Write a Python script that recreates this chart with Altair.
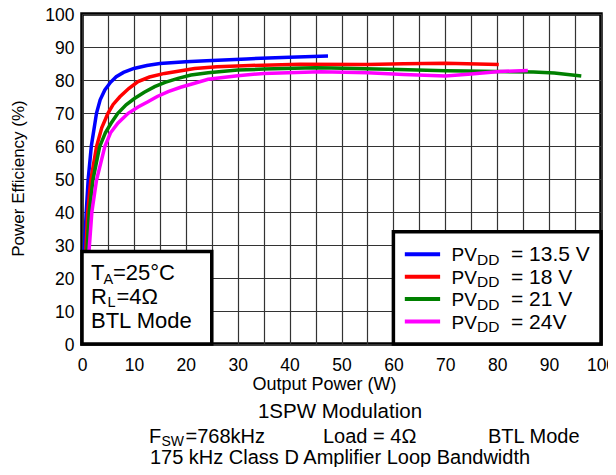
import altair as alt
import pandas as pd

FONT = "Liberation Sans"

SERIES = ["PVDD = 13.5 V", "PVDD = 18 V", "PVDD = 21 V", "PVDD = 24V"]
COLORS = ["#0000FF", "#FF0000", "#008000", "#FF00FF"]
LEGEND_TAIL = ["= 13.5 V", "= 18 V", "= 21 V", "= 24V"]

# Output power (W) and efficiency (%)
blue_x = [0.4, 0.8, 1.2, 1.8, 2.8, 3.5, 4.4, 5.5, 6.6, 8.0, 10.0, 12.5, 15.0, 20.0, 24.0, 31.7, 40.0, 47.4]
blue_y = [27.0, 39.6, 50.0, 60.0, 70.0, 74.0, 77.0, 79.3, 81.0, 82.3, 83.5, 84.4, 85.0, 85.5, 85.8, 86.4, 86.9, 87.3]

red_x = [0.7, 1.1, 1.7, 2.8, 3.8, 5.0, 6.0, 7.3, 9.0, 10.8, 13.0, 15.9, 21.7, 26.0, 32.4, 42.0, 55.0, 62.0, 70.0, 80.3]
red_y = [27.0, 40.0, 49.7, 59.8, 65.5, 69.9, 72.6, 74.9, 77.4, 79.5, 80.9, 82.0, 83.5, 84.0, 84.4, 84.8, 84.7, 84.9, 85.1, 84.7]

green_x = [0.9, 1.4, 2.1, 3.4, 4.5, 5.6, 6.9, 8.5, 10.1, 12.0, 14.0, 16.0, 18.5, 21.0, 24.3, 30.0, 35.0, 45.0, 48.0, 61.0, 70.0, 74.0, 87.0, 91.0, 96.2]
green_y = [27.0, 40.0, 49.7, 59.8, 64.0, 66.9, 69.9, 72.5, 74.4, 76.3, 78.0, 79.3, 80.5, 81.5, 82.2, 83.0, 83.3, 83.7, 83.6, 83.2, 82.8, 82.7, 82.4, 82.1, 81.2]

magenta_x = [1.3, 1.9, 2.8, 4.4, 5.5, 6.9, 8.9, 10.8, 12.7, 14.5, 16.6, 19.0, 21.7, 24.3, 30.0, 35.0, 46.0, 55.0, 62.0, 70.0, 75.0, 80.5, 85.9]
magenta_y = [27.0, 40.0, 49.7, 59.8, 64.0, 66.9, 69.9, 71.8, 73.4, 75.0, 76.5, 77.8, 79.0, 80.2, 81.3, 82.0, 82.5, 82.2, 81.7, 81.2, 81.8, 82.6, 82.9]

rows = []
for name, xs, ys in zip(SERIES, [blue_x, red_x, green_x, magenta_x], [blue_y, red_y, green_y, magenta_y]):
    for i, (xv, yv) in enumerate(zip(xs, ys)):
        rows.append({"series": name, "power": xv, "eff": yv, "order": i})
df = pd.DataFrame(rows)

# annotation boxes (data coordinates)
box_x = [0, 60]
box_x2 = [25, 100]
box_y = [0, 0]
box_y2 = [28, 34]
boxes = pd.DataFrame({"power": box_x, "x2": box_x2, "eff": box_y, "y2": box_y2})

# legend rows (data coordinates)
leg_y = [27.2, 20.4, 13.6, 6.8]
leg_x1 = 62.2
leg_x2 = 69.0
legdf = pd.DataFrame({"series": SERIES, "eff": leg_y, "tail": LEGEND_TAIL,
                      "power": [leg_x1] * 4, "x2": [leg_x2] * 4})

xscale = alt.Scale(domain=[0, 100], nice=False, zero=False)
yscale = alt.Scale(domain=[0, 100], nice=False, zero=False)
cscale = alt.Scale(domain=SERIES, range=COLORS)

x_axis = alt.Axis(
    values=list(range(0, 101, 5)),
    labelExpr="datum.value % 10 == 0 ? datum.label : ''",
    grid=True, ticks=False, domain=False,
    labelOverlap=False, labelFlush=False, labelPadding=12,
    title="Output Power (W)", titleFontSize=18,
    titleX=242, titleY=45.5, titleBaseline="alphabetic", titleAlign="center",
)
y_axis = alt.Axis(
    values=list(range(0, 101, 10)),
    grid=True, ticks=False, domain=False,
    labelOverlap=False, labelFlush=False, labelPadding=8, labelOffset=1.5,
    title="Power Efficiency (%)",
    titleX=-64, titleY=164, titleAngle=270, titleBaseline="middle", titleAlign="center",
)

X = alt.X("power:Q", scale=xscale, axis=x_axis)
Y = alt.Y("eff:Q", scale=yscale, axis=y_axis)

lines = alt.Chart(df).mark_line(strokeWidth=3.5, clip=True).encode(
    x=X, y=Y,
    color=alt.Color("series:N", scale=cscale, legend=None),
    order="order:Q",
    detail="series:N",
)

box_layer = alt.Chart(boxes).mark_rect(fill="white", stroke="black", strokeWidth=3.5).encode(
    x=X, x2="x2:Q", y=Y, y2="y2:Q",
)

leg_lines = alt.Chart(legdf).mark_rule(strokeWidth=4).encode(
    x=X, x2="x2:Q", y=Y,
    color=alt.Color("series:N", scale=cscale, legend=None),
)
leg_pv = alt.Chart(legdf).mark_text(text="PV", fontSize=19, align="left",
                                    baseline="alphabetic", dy=7, color="black").encode(
    x=alt.value(369.5), y=Y)
leg_dd = alt.Chart(legdf).mark_text(text="DD", fontSize=15.5, align="left",
                                    baseline="alphabetic", dy=10.5, color="black").encode(
    x=alt.value(395), y=Y)
leg_tail = alt.Chart(legdf).mark_text(fontSize=21, align="left",
                                      baseline="alphabetic", dy=7, color="black").encode(
    x=alt.value(429), y=Y, text="tail:N")

one = pd.DataFrame({"k": [0]})


def txt(s, x, y, size, align="left"):
    return alt.Chart(one).mark_text(text=s, fontSize=size, align=align,
                                    baseline="alphabetic", color="black").encode(
        x=alt.value(x), y=alt.value(y))


notes = [
    txt("T", 9, 266, 22), txt("A", 21.5, 269.5, 14.5), txt("=25\u00b0C", 31, 266, 22),
    txt("R", 9, 290, 22), txt("L", 25.5, 293, 14.5), txt("=4\u03a9", 34.5, 290, 22),
    txt("BTL Mode", 9, 314, 22),
    txt("1SPW Modulation", 258, 404, 20.5, "center"),
    txt("F", 67, 429, 20), txt("SW", 79.5, 431.5, 14), txt("=768kHz", 103.5, 429, 20),
    txt("Load = 4\u03a9", 241, 429, 20), txt("BTL Mode", 406, 429, 20),
    txt("175 kHz Class D Amplifier Loop Bandwidth", 258, 450, 20, "center"),
]

chart = alt.layer(lines, box_layer, leg_lines, leg_pv, leg_dd, leg_tail, *notes).properties(
    width=519, height=330,
    autosize=alt.AutoSizeParams(type="none"),
    padding={"left": 74, "top": 6, "right": 7, "bottom": 123},
    background="white",
).configure_view(
    stroke="black", strokeWidth=3.5
).configure_axis(
    grid=True, gridColor="#333333", gridWidth=1.2, gridOpacity=1,
    labelFont=FONT, labelFontSize=17.5, labelColor="black",
    titleFont=FONT, titleFontSize=17, titleFontWeight="normal", titleColor="black",
    ticks=False, tickSize=0, domain=False,
).configure_text(font=FONT)

chart.save("out.html", embed_options={"renderer": "svg", "actions": False})
